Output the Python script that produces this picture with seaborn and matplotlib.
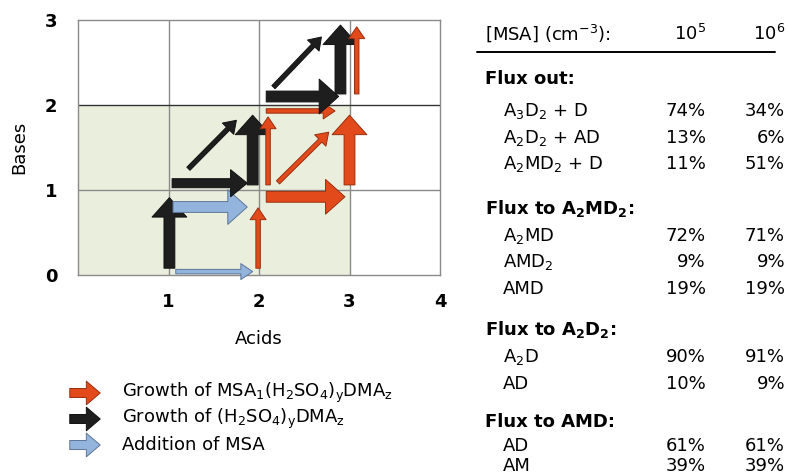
import numpy as np
import seaborn as sns
import matplotlib.pyplot as plt
from matplotlib.lines import Line2D
from matplotlib.patches import FancyArrowPatch

# >>>>> data
# arrows in (acids, bases) coordinates: start -> tip
arrow_x0 = [1.01, 1.08, 1.05, 1.99, 1.04, 1.22, 1.93, 2.10, 2.08, 2.21, 3.00, 2.08, 2.08, 2.16, 2.90, 3.08]
arrow_y0 = [0.08, 0.04, 0.80, 0.08, 1.08, 1.25, 1.06, 1.06, 0.92, 1.09, 1.06, 1.93, 2.10, 2.21, 2.13, 2.13]
arrow_x1 = [1.01, 1.93, 1.87, 1.99, 1.87, 1.75, 1.93, 2.10, 2.95, 2.77, 3.00, 2.84, 2.88, 2.69, 2.90, 3.08]
arrow_y1 = [0.91, 0.04, 0.80, 0.79, 1.08, 1.82, 1.88, 1.86, 0.92, 1.68, 1.88, 1.93, 2.10, 2.80, 2.94, 2.92]
arrow_kind = ["sa", "add", "add", "msa", "sa", "sa", "sa", "msa", "msa", "msa", "msa", "msa", "sa", "sa", "sa", "msa"]
arrow_flux = [3, 1, 3, 1, 2, 1, 3, 1, 3, 1, 3, 1, 3, 1, 3, 1]

shaded_acids = [0, 3]
shaded_bases = [0, 2]

legend_kinds = ["msa", "sa", "add"]
legend_labels = [
    "Growth of MSA$_1$(H$_2$SO$_4$)$_y$DMA$_z$",
    "Growth of (H$_2$SO$_4$)$_y$DMA$_z$",
    "Addition of MSA",
]

msa_levels = ["10$^5$", "10$^6$"]
groups = ["Flux out:", "Flux to A$_2$MD$_2$:", "Flux to A$_2$D$_2$:", "Flux to AMD:"]
group_rows = [
    ["A$_3$D$_2$ + D", "A$_2$D$_2$ + AD", "A$_2$MD$_2$ + D"],
    ["A$_2$MD", "AMD$_2$", "AMD"],
    ["A$_2$D", "AD"],
    ["AD", "AM"],
]
flux_1e5 = [[74, 13, 11], [72, 9, 19], [90, 10], [61, 39]]
flux_1e6 = [[34, 6, 51], [71, 9, 19], [91, 9], [61, 39]]
# <<<<< data

sns.set_theme(style="white")
plt.rcParams["font.family"] = ["DejaVu Sans"]
plt.rcParams["mathtext.fontset"] = "dejavusans"
plt.rcParams["mathtext.default"] = "regular"
for key in ["text.color", "axes.labelcolor", "xtick.color", "ytick.color"]:
    plt.rcParams[key] = "black"

colors = {"msa": "#e2491b", "sa": "#1e1e1e", "add": "#93b4dc"}
edges = {"msa": "#9a2f0e", "sa": "#111111", "add": "#5e7698"}
# tail width, head width, head length (points) per flux class
styles = {
    1: (3.2, 11.5, 8.5),
    2: (6.5, 19.5, 12.0),
    3: (7.8, 25.0, 14.0),
}

W, H = 788, 475
fig = plt.figure(figsize=(W / 100, H / 100), dpi=100)
ax = fig.add_axes([78 / W, (H - 275) / H, 362 / W, 255 / H])

ax.fill_between(shaded_acids, shaded_bases[0], shaded_bases[1], color="#eaeedd", zorder=0, lw=0)
ax.set_xlim(0, 4)
ax.set_ylim(0, 3)
for v in [1, 2, 3]:
    ax.axvline(v, color="#8a8a8a", lw=1, zorder=1)
ax.axhline(1, color="#8a8a8a", lw=1, zorder=1)
ax.axhline(2, color="#333333", lw=1, zorder=1)
for s in ax.spines.values():
    s.set_color("#8a8a8a")
    s.set_linewidth(1)

for x0, y0, x1, y1, k, f in zip(arrow_x0, arrow_y0, arrow_x1, arrow_y1, arrow_kind, arrow_flux):
    tw, hw, hl = styles[f]
    ax.annotate(
        "", xy=(x1, y1), xytext=(x0, y0),
        arrowprops=dict(
            arrowstyle="simple,head_length={},head_width={},tail_width={}".format(hl, hw, tw),
            mutation_scale=1, fc=colors[k], ec=edges[k], lw=0.7,
            shrinkA=0, shrinkB=0,
        ),
        zorder=3,
    )

ax.set_xticks([1, 2, 3, 4])
ax.set_yticks([0, 1, 2, 3])
ax.set_xticklabels(["1", "2", "3", "4"], fontweight="bold", fontsize=13)
ax.set_yticklabels(["0", "1", "2", "3"], fontweight="bold", fontsize=13)
ax.tick_params(axis="x", length=0, pad=13)
ax.tick_params(axis="y", length=0, pad=15)
ax.set_xlabel("Acids", fontsize=13, labelpad=14)
ax.set_ylabel("Bases", fontsize=13, labelpad=12)

# legend drawn by hand
def fy(py):
    return 1 - py / H

for i, (k, lab) in enumerate(zip(legend_kinds, legend_labels)):
    py = 393 + i * 26
    fig.add_artist(FancyArrowPatch(
        (67 / W, fy(py)), (103 / W, fy(py)), transform=fig.transFigure,
        arrowstyle="simple,head_length=10,head_width=17,tail_width=6.5",
        mutation_scale=1, fc=colors[k], ec=edges[k], lw=0.7))
    fig.text(122 / W, fy(py), lab, fontsize=13, va="center", ha="left")

# table
c1, c2 = 706, 785
fig.text(485 / W, fy(40), "[MSA] (cm$^{-3}$):", fontsize=13, va="baseline")
fig.text(c1 / W, fy(40), msa_levels[0], fontsize=13, va="baseline", ha="right")
fig.text(c2 / W, fy(40), msa_levels[1], fontsize=13, va="baseline", ha="right")
fig.add_artist(Line2D([477 / W, 775 / W], [fy(52), fy(52)], transform=fig.transFigure, color="black", lw=1.4))

group_y = [84, 214, 335, 427]
row_y = [[116, 143, 169], [241, 267, 294], [362, 389], [451, 471]]
for g, gy, rows, ys, a, b in zip(groups, group_y, group_rows, row_y, flux_1e5, flux_1e6):
    fig.text(485 / W, fy(gy), g, fontsize=13, fontweight="bold", va="baseline")
    for r, ry, va_, vb_ in zip(rows, ys, a, b):
        fig.text(503 / W, fy(ry), r, fontsize=13, va="baseline")
        fig.text(c1 / W, fy(ry), "{}%".format(va_), fontsize=13, va="baseline", ha="right")
        fig.text(c2 / W, fy(ry), "{}%".format(vb_), fontsize=13, va="baseline", ha="right")

fig.savefig("out.png", dpi=100)
